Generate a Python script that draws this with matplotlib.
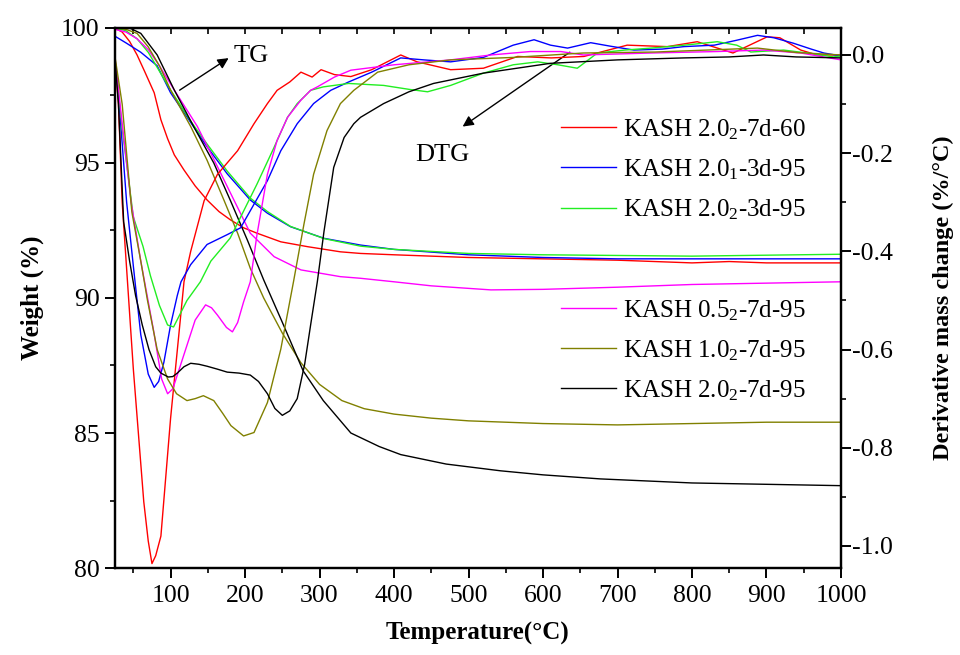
"""TG / DTG curves of the KASH samples."""

from matplotlib import pyplot
from matplotlib.lines import Line2D
from matplotlib.ticker import MultipleLocator

# Legend labels and colours (same order for TG and DTG).
labels = ['KASH 2.0$_2$-7d-60', 'KASH 2.0$_1$-3d-95', 'KASH 2.0$_2$-3d-95',
          'KASH 0.5$_2$-7d-95', 'KASH 1.0$_2$-7d-95', 'KASH 2.0$_2$-7d-95']
colors = ['#ff0000', '#0000ff', '#22ee22', '#ff00ff', '#808000', '#000000']

# TG curves: temperature (C) and weight (%).
red_tg_t = [25, 35, 45, 55, 65, 78, 87, 96, 105, 118, 133, 149, 165, 180, 198,
            216, 248, 284, 328, 355, 400, 500, 600, 700, 800, 850, 900, 1000]
red_tg_w = [100, 99.85, 99.5, 99.0, 98.4, 97.6, 96.6, 95.9, 95.3, 94.74, 94.15,
            93.63, 93.2, 92.9, 92.6, 92.4, 92.08, 91.9, 91.71, 91.65, 91.6, 91.5,
            91.45, 91.4, 91.3, 91.35, 91.3, 91.3]

blue_tg_t = [25, 40, 60, 82, 100, 127, 149, 176, 207, 230, 261, 306, 355, 400,
             500, 600, 700, 800, 1000]
blue_tg_w = [99.7, 99.45, 99.1, 98.6, 97.6, 96.5, 95.6, 94.6, 93.63, 93.14, 92.64,
             92.21, 91.96, 91.8, 91.6, 91.5, 91.45, 91.45, 91.45]

green_tg_t = [25, 40, 55, 70, 85, 100, 127, 149, 176, 207, 230, 261, 306, 355,
              400, 500, 600, 800, 1000]
green_tg_w = [100, 99.9, 99.6, 99.1, 98.4, 97.7, 96.55, 95.7, 94.7, 93.7, 93.2,
              92.65, 92.2, 91.92, 91.8, 91.65, 91.6, 91.55, 91.62]

magenta_tg_t = [25, 40, 55, 70, 85, 105, 136, 163, 185, 207, 239, 275, 328, 355,
                400, 450, 530, 600, 700, 800, 900, 1000]
magenta_tg_w = [99.95, 99.85, 99.6, 99.2, 98.6, 97.7, 96.35, 94.86, 93.63, 92.4,
                91.53, 91.04, 90.79, 90.73, 90.6, 90.45, 90.3, 90.32, 90.4, 90.5,
                90.55, 90.6]

olive_tg_t = [25, 40, 55, 70, 85, 100, 127, 149, 172, 190, 207, 225, 250, 275,
              300, 330, 360, 400, 450, 500, 600, 700, 800, 900, 1000]
olive_tg_w = [100, 99.95, 99.8, 99.3, 98.6, 97.7, 96.35, 95.1, 93.6, 92.4, 91.1,
              90.0, 88.7, 87.6, 86.8, 86.2, 85.9, 85.7, 85.55, 85.45, 85.35, 85.3,
              85.35, 85.4, 85.4]

black_tg_t = [25, 45, 60, 82, 105, 131, 158, 180, 203, 225, 250, 278, 305, 342,
              380, 409, 470, 543, 600, 677, 800, 900, 1000]
black_tg_w = [100, 100, 99.8, 99.0, 97.7, 96.35, 95.0, 93.63, 92.15, 90.67, 89.1,
              87.3, 86.2, 85.0, 84.5, 84.2, 83.85, 83.6, 83.45, 83.3, 83.15, 83.1,
              83.05]

# DTG curves: temperature (C) and derivative mass change (%/C).
red_dtg_t = [25, 30, 35, 50, 64, 70, 75, 80, 87, 100, 113, 118, 127, 145, 163,
             190, 212, 230, 243, 260, 275, 290, 302, 320, 342, 370, 409, 431, 476,
             520, 566, 611, 655, 713, 767, 807, 855, 901, 918, 946, 968, 1000]
red_dtg_d = [0.0, -0.1, -0.3, -0.64, -0.91, -0.99, -1.036, -1.02, -0.98, -0.74,
             -0.54, -0.462, -0.40, -0.297, -0.243, -0.195, -0.14, -0.099, -0.072,
             -0.055, -0.035, -0.045, -0.03, -0.04, -0.044, -0.03, 0.0, -0.014,
             -0.03, -0.027, -0.003, -0.006, -0.003, 0.02, 0.017, 0.027, 0.004,
             0.037, 0.035, 0.01, 0.0, 0.0]

blue_dtg_t = [25, 32, 41, 50, 60, 70, 78, 84, 91, 100, 109, 114, 127, 149, 176,
              194, 212, 230, 248, 270, 292, 315, 339, 370, 409, 440, 476, 520, 560,
              588, 610, 633, 664, 690, 722, 760, 789, 830, 860, 888, 910, 936, 960,
              977, 1000]
blue_dtg_d = [0.0, -0.12, -0.3, -0.43, -0.57, -0.65, -0.677, -0.665, -0.626, -0.55,
              -0.49, -0.462, -0.427, -0.386, -0.366, -0.352, -0.304, -0.256,
              -0.195, -0.14, -0.099, -0.072, -0.055, -0.035, -0.006, -0.01,
              -0.014, -0.005, 0.02, 0.031, 0.02, 0.014, 0.025, 0.018, 0.01, 0.012,
              0.017, 0.02, 0.03, 0.04, 0.035, 0.024, 0.012, 0.004, -0.002]

green_dtg_t = [25, 35, 45, 50, 63, 73, 85, 96, 104, 112, 122, 140, 154, 180, 198,
               216, 239, 257, 270, 288, 305, 339, 386, 420, 445, 476, 520, 560,
               593, 620, 646, 673, 710, 745, 790, 834, 860, 879, 923, 960, 990,
               1000]
green_dtg_d = [0.0, -0.15, -0.27, -0.33, -0.39, -0.45, -0.51, -0.55, -0.554,
               -0.53, -0.50, -0.462, -0.42, -0.373, -0.318, -0.263, -0.188, -0.127,
               -0.099, -0.072, -0.065, -0.058, -0.062, -0.07, -0.075, -0.062,
               -0.037, -0.02, -0.014, -0.02, -0.027, 0.004, 0.01, 0.014, 0.02,
               0.027, 0.02, 0.006, 0.01, 0.003, -0.004, -0.002]

magenta_dtg_t = [25, 35, 47, 60, 77, 88, 96, 103, 118, 133, 147, 155, 163, 175,
                 183, 190, 198, 207, 216, 230, 243, 257, 275, 288, 297, 320, 342,
                 400, 476, 530, 583, 624, 654, 700, 745, 834, 896, 946, 1000]
magenta_dtg_d = [0.0, -0.14, -0.3, -0.42, -0.56, -0.66, -0.69, -0.68, -0.61,
                 -0.54, -0.509, -0.515, -0.53, -0.555, -0.564, -0.545, -0.503,
                 -0.462, -0.366, -0.243, -0.174, -0.127, -0.092, -0.072, -0.065,
                 -0.045, -0.031, -0.02, -0.01, 0.0, 0.007, 0.007, 0.0, 0.002, 0.004,
                 0.007, 0.01, 0.004, -0.01]

olive_dtg_t = [25, 35, 48, 60, 69, 82, 96, 108, 122, 133, 144, 158, 170, 181, 198,
               212, 230, 248, 265, 279, 292, 310, 328, 346, 378, 420, 476, 560,
               654, 750, 820, 888, 940, 1000]
olive_dtg_d = [0.0, -0.1, -0.32, -0.42, -0.5, -0.6, -0.66, -0.69, -0.704, -0.70,
               -0.694, -0.704, -0.73, -0.755, -0.776, -0.769, -0.708, -0.599,
               -0.462, -0.345, -0.243, -0.154, -0.099, -0.072, -0.035, -0.02,
               -0.01, -0.005, 0.004, 0.006, 0.01, 0.014, 0.005, 0.0]

black_dtg_t = [25, 30, 37, 45, 53, 62, 71, 80, 87, 97, 103, 109, 118, 127, 138,
               149, 163, 176, 192, 207, 218, 230, 240, 250, 260, 270, 280, 288,
               297, 306, 319, 333, 346, 355, 386, 420, 453, 520, 610, 700, 789,
               850, 896, 940, 1000]
black_dtg_d = [0.0, -0.1, -0.34, -0.42, -0.49, -0.55, -0.6, -0.635, -0.648,
               -0.656, -0.655, -0.648, -0.635, -0.628, -0.63, -0.634, -0.64,
               -0.646, -0.648, -0.652, -0.665, -0.69, -0.72, -0.734, -0.725,
               -0.70, -0.63, -0.55, -0.462, -0.359, -0.229, -0.168, -0.14, -0.127,
               -0.099, -0.075, -0.058, -0.037, -0.017, -0.01, -0.006, -0.004, 0.0,
               -0.004, -0.006]

tg_t = [red_tg_t, blue_tg_t, green_tg_t, magenta_tg_t, olive_tg_t, black_tg_t]
tg_w = [red_tg_w, blue_tg_w, green_tg_w, magenta_tg_w, olive_tg_w, black_tg_w]
dtg_t = [red_dtg_t, blue_dtg_t, green_dtg_t, magenta_dtg_t, olive_dtg_t,
         black_dtg_t]
dtg_d = [red_dtg_d, blue_dtg_d, green_dtg_d, magenta_dtg_d, olive_dtg_d,
         black_dtg_d]

# Annotation positions (temperature, weight).
tg_tail, tg_head, tg_text = (109, 97.64), (181, 98.94), (184, 98.96)
dtg_tail, dtg_head, dtg_text = (639, 99.16), (489, 96.29), (428, 95.3)

pyplot.rcParams['font.family'] = 'Liberation Serif'
pyplot.rcParams['mathtext.default'] = 'regular'
pyplot.rcParams['axes.unicode_minus'] = False

fig = pyplot.figure(figsize=(9.6, 6.55), dpi=100)
ax = fig.add_axes([0.1195, 0.1328, 0.7565, 0.8245])
ax2 = ax.twinx()

for t, w, c in zip(tg_t, tg_w, colors):
    ax.plot(t, w, color=c, lw=1.0)
for t, d, c in zip(dtg_t, dtg_d, colors):
    ax2.plot(t, d, color=c, lw=1.0)

ax.set_xlim(25, 1000)
ax.set_ylim(80, 100)
ax2.set_ylim(-1.045, 0.055)

ax.xaxis.set_major_locator(MultipleLocator(100))
ax.xaxis.set_minor_locator(MultipleLocator(50))
ax.yaxis.set_major_locator(MultipleLocator(5))
ax.yaxis.set_minor_locator(MultipleLocator(2.5))
ax2.yaxis.set_major_locator(MultipleLocator(0.2))
ax2.yaxis.set_minor_locator(MultipleLocator(0.1))
ax2.yaxis.set_major_formatter('{x:.1f}')

for a in (ax, ax2):
    for s in a.spines.values():
        s.set_linewidth(1.6)
    a.tick_params(which='major', direction='out', length=7, width=1.4,
                  labelsize=18.5)
    a.tick_params(which='minor', direction='out', length=3.6, width=1.2)
ax.tick_params(top=False)
ax.tick_params(axis='x', pad=5)
ax.tick_params(axis='y', pad=4)
ax2.tick_params(axis='y', pad=1)

top = ax.secondary_xaxis('top')
top.xaxis.set_major_locator(MultipleLocator(50))
top.tick_params(direction='in', length=4, width=1.2, labeltop=False)

ax.set_xlabel('Temperature(°C)', fontsize=18, fontweight='bold', labelpad=11)
ax.set_ylabel('Weight (%)', fontsize=18, fontweight='bold', labelpad=12)
ax2.set_ylabel('Derivative mass change (%/°C)', fontsize=17.5,
               fontweight='bold', labelpad=29)

# TG / DTG arrows.
arrow = dict(arrowstyle='-|>', color='black', lw=1.0, mutation_scale=16)
ax.annotate('', xy=tg_head, xytext=tg_tail, arrowprops=arrow)
ax.text(*tg_text, 'TG', fontsize=19, ha='left', va='center')
ax.annotate('', xy=dtg_head, xytext=dtg_tail, arrowprops=arrow)
ax.text(*dtg_text, 'DTG', fontsize=19, ha='left', va='center')

# Two legend blocks.
handles = [Line2D([], [], color=c, lw=1.0) for c in colors]
style = dict(loc='upper left', frameon=False, borderpad=0, borderaxespad=0,
             handlelength=2.2, handletextpad=0.3, labelspacing=0.62,
             fontsize=18)
leg1 = ax2.legend(handles[:3], labels[:3], bbox_to_anchor=(0.6145, 0.835),
                  **style)
ax2.add_artist(leg1)
ax2.legend(handles[3:], labels[3:], bbox_to_anchor=(0.6145, 0.5), **style)

fig.savefig('out.png', dpi=100)
